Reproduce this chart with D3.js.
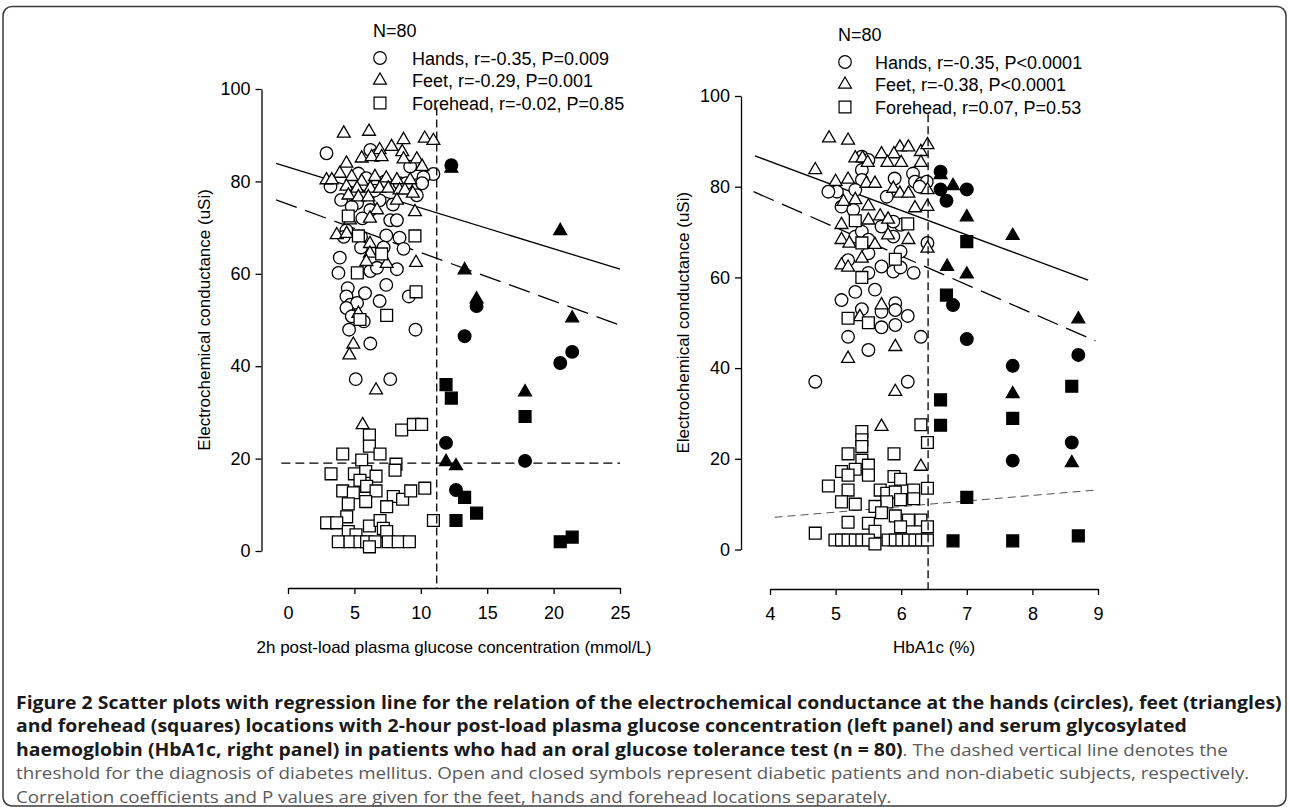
<!DOCTYPE html>
<meta charset="utf-8">
<body style="margin:0;background:#fff">
    <div id="chart"></div>
</body>
<script src="https://cdn.jsdelivr.net/npm/d3@7"></script>
<script>
    var svg_width = 1290,
        svg_height = 807;

    // tick labels
    var conductTicks = [0, 20, 40, 60, 80, 100];
    var glucoseTicks = [0, 5, 10, 15, 20, 25];
    var hba1cTicks = [4, 5, 6, 7, 8, 9];

    // ---- left panel: 2h post-load glucose (mmol/L) vs conductance (uSi) ----
    var glucoseHandsOpen = [[2.9,86.1],[6.2,86.8],[6.7,85.7],[9.2,83.2],[10.95,81.6],[10.2,80.9],[3.2,78.9],[4.0,76.0],
        [5.3,81.7],[5.9,80.7],[7.3,80.0],[9.7,79.2],[8.4,79.6],[10.1,79.6],[5.2,75.3],[6.9,75.9],[9.7,77.0],[6.2,73.8],
        [7.7,71.6],[8.2,71.6],[4.4,69.4],[4.2,68.0],[5.5,68.0],[7.4,68.3],[8.4,67.8],[8.7,65.4],[5.5,65.7],[7.2,65.7],
        [3.9,63.5],[3.8,60.2],[6.2,60.6],[6.7,61.3],[8.2,61.0],[4.5,56.9],[7.4,57.6],[5.8,55.8],[4.4,55.1],[4.7,53.3],
        [5.2,53.7],[6.9,54.1],[9.1,55.1],[4.4,52.6],[4.8,50.8],[5.7,49.7],[4.6,47.9],[6.2,44.9],[9.6,47.9],[5.1,37.2],
        [7.7,37.2],[8.9,79.6],[6.5,78.0],[4.8,74.5],[5.6,72.0],[7.9,75.0]];
    var glucoseFeetOpen = [[4.2,90.4],[6.1,90.8],[8.7,89.0],[10.3,89.3],[10.95,88.8],[7.8,87.5],[6.9,86.8],[8.6,86.4],
        [5.55,85.0],[6.3,85.3],[7.05,85.3],[9.7,84.8],[8.7,84.8],[4.4,83.9],[10.1,83.2],[3.9,81.7],[2.9,80.3],[3.3,80.3],
        [4.8,81.0],[5.55,80.0],[6.55,81.0],[7.4,80.7],[8.2,80.3],[9.2,80.3],[4.4,78.9],[5.2,78.5],[6.2,78.5],[6.9,78.5],
        [7.55,78.5],[8.4,78.1],[8.8,78.1],[4.55,77.0],[5.3,76.6],[6.05,76.6],[8.2,75.9],[9.4,77.4],[6.7,73.8],[9.56,73.4],
        [4.67,71.6],[6.17,72.0],[3.67,68.4],[4.42,68.7],[6.17,66.5],[6.17,64.4],[5.9,62.6],[7.43,62.2],[9.64,62.4],
        [5.3,51.4],[4.92,44.7],[4.62,42.4],[6.63,34.8],[5.62,27.3]];
    var glucoseForeheadOpen = [[4.54,72.5],[5.3,68.2],[9.56,68.2],[7.05,64.3],[5.22,60.2],[9.64,56.1],[7.43,51.0],[5.42,50.1],
        [8.56,26.2],[9.44,27.4],[10.06,27.4],[6.13,25.1],[6.13,22.7],[4.12,21.0],[6.93,21.0],[5.55,19.7],[8.13,18.8],
        [8.06,17.5],[3.24,16.7],[5.0,16.7],[5.85,17.2],[6.63,16.2],[5.42,15.3],[5.92,14.0],[4.12,13.0],[4.92,12.6],
        [6.63,13.0],[7.93,11.8],[8.63,11.2],[9.24,13.0],[10.3,13.6],[4.54,10.2],[5.85,10.7],[7.43,9.6],[4.42,7.4],
        [2.91,6.1],[3.67,6.1],[6.13,5.4],[6.93,6.6],[7.18,4.9],[4.54,4.2],[5.12,3.5],[7.43,4.2],[10.95,6.6],[3.79,2.0],
        [4.67,2.0],[5.42,2.0],[5.92,2.0],[6.55,2.0],[7.55,2.0],[8.3,2.0],[9.14,2.0],[6.13,0.9]];
    var glucoseHandsClosed = [[12.3,83.5],[14.2,53.0],[13.3,46.5],[20.5,40.7],[21.4,43.1],[11.9,23.4],[17.85,19.5],[12.65,13.2]];
    var glucoseFeetClosed = [[12.3,82.8],[20.5,69.3],[13.3,60.8],[14.2,54.5],[21.4,50.4],[11.9,19.3],[12.65,18.4],[17.85,34.4]];
    var glucoseForeheadClosed = [[11.9,36.0],[12.3,33.1],[17.85,29.1],[13.3,11.6],[14.2,8.2],[12.65,6.6],[20.5,2.0],[21.4,3.0]];
    // regression lines, start/end in data units
    var glucoseFitHands = [[-0.9,83.9],[25,61.0]];
    var glucoseFitFeet = [[-0.9,76.0],[25,48.9]];
    var glucoseFitForehead = [[-0.5,19.0],[25,19.0]];
    var glucoseThreshold = 11.2;
    var glucoseLegend = ["Hands, r=-0.35, P=0.009", "Feet, r=-0.29, P=0.001", "Forehead, r=-0.02, P=0.85"];

    // ---- right panel: HbA1c (%) vs conductance (uSi) ----
    var hba1cHandsOpen = [[5.4,86.6],[5.5,85.9],[5.4,83.7],[5.4,81.5],[5.02,78.9],[4.89,78.9],[5.3,79.3],[5.09,75.6],
        [5.27,74.9],[5.78,77.8],[5.9,81.8],[6.18,82.9],[6.21,81.1],[6.31,80.7],[6.39,81.1],[6.28,80.0],[5.7,71.2],
        [5.99,71.6],[5.88,72.3],[5.3,69.0],[5.4,70.1],[5.5,68.3],[5.88,69.0],[5.99,65.7],[5.19,63.8],[5.5,65.3],
        [5.7,62.4],[5.88,61.3],[5.99,62.2],[6.19,61.0],[5.5,61.0],[5.3,56.8],[5.6,57.3],[5.09,55.0],[5.4,53.0],
        [5.7,52.4],[5.91,54.3],[5.91,52.8],[6.1,51.5],[5.91,49.5],[5.7,49.0],[5.19,46.9],[6.3,46.9],[5.5,44.0],
        [4.69,37.0],[6.1,37.0],[6.4,67.6]];
    var hba1cFeetOpen = [[4.9,90.7],[5.19,90.2],[4.69,83.7],[5.7,87.2],[5.98,88.7],[6.11,88.7],[6.3,87.7],[6.4,89.2],
        [5.3,86.3],[5.41,86.3],[5.49,85.3],[5.89,87.2],[5.79,85.3],[6.0,85.3],[6.3,85.3],[5.0,81.1],[5.19,81.6],
        [5.47,80.7],[5.6,80.7],[5.88,79.6],[5.98,78.5],[6.11,78.5],[6.4,79.3],[5.12,76.7],[5.3,77.1],[5.5,75.7],
        [5.68,73.5],[5.8,72.8],[6.21,75.3],[6.4,75.6],[5.09,71.6],[5.5,72.6],[5.09,68.3],[5.21,67.5],[5.6,67.2],
        [5.8,69.3],[6.11,68.3],[6.4,66.4],[5.4,64.2],[5.09,62.7],[5.19,62.2],[5.7,53.9],[5.37,51.3],[5.91,44.7],
        [5.19,42.1],[5.91,34.8],[5.7,27.1],[6.3,18.3]];
    var hba1cForeheadOpen = [[5.3,72.5],[6.1,71.8],[5.4,67.6],[5.91,64.0],[5.4,60.0],[5.19,51.0],[5.5,50.0],
        [6.3,27.5],[5.4,26.0],[5.4,24.2],[5.4,22.7],[5.19,21.1],[5.89,21.1],[6.4,23.6],[5.4,19.7],[5.5,18.6],
        [5.09,17.2],[5.3,17.7],[5.19,16.4],[5.5,16.4],[4.89,14.0],[5.89,16.1],[5.99,15.5],[5.19,13.1],[5.68,13.1],
        [5.78,12.4],[5.91,12.7],[6.19,13.1],[6.4,13.5],[5.09,10.5],[5.3,10.0],[5.78,10.5],[5.99,11.0],[6.19,11.2],
        [5.6,9.5],[5.7,8.1],[5.19,6.0],[5.5,5.8],[5.91,7.4],[6.11,6.5],[6.3,6.5],[5.99,5.0],[6.4,5.0],[5.6,4.0],
        [4.69,3.6],[4.99,2.1],[5.09,2.1],[5.19,2.1],[5.3,2.1],[5.4,2.1],[5.5,2.1],[5.8,2.1],[5.91,2.1],[6.01,2.1],
        [6.11,2.1],[6.21,2.1],[6.31,2.1],[6.4,2.1],[5.6,1.2]];
    var hba1cHandsClosed = [[6.6,83.3],[6.6,79.4],[7.0,79.4],[6.69,76.9],[6.79,53.9],[7.0,46.4],[7.7,40.5],[8.7,42.9],[7.7,19.6],[8.6,23.6]];
    var hba1cFeetClosed = [[6.6,82.6],[6.79,80.2],[7.0,73.3],[7.7,69.2],[6.7,62.4],[7.0,60.7],[8.7,50.8],[7.7,34.3],[8.6,19.1]];
    var hba1cForeheadClosed = [[7.0,67.9],[6.69,56.1],[6.6,33.0],[6.6,27.4],[7.7,28.9],[8.6,36.0],[7.0,11.5],[6.79,1.9],[7.7,1.9],[8.7,3.0]];
    var hba1cFitHands = [[3.77,86.8],[8.85,59.4]];
    var hba1cFitFeet = [[3.75,78.9],[8.96,46.0]];
    var hba1cFitForehead = [[4.07,7.1],[8.96,13.1]];
    var hba1cThreshold = 6.41;
    var hba1cLegend = ["Hands, r=-0.35, P<0.0001", "Feet, r=-0.38, P<0.0001", "Forehead, r=0.07, P=0.53"];

    var yTitle = "Electrochemical conductance (uSi)";
    var chartFont = "Arial, 'Liberation Sans', sans-serif";

    var svg = d3.select("#chart").append("svg")
        .attr("width", svg_width)
        .attr("height", svg_height)
        .style("display", "block");

    // figure frame
    svg.append("rect")
        .attr("x", 3).attr("y", 6.5)
        .attr("width", 1283).attr("height", 799.5)
        .attr("rx", 9)
        .style("fill", "none")
        .style("stroke", "#3a3a3a")
        .style("stroke-width", 1.5);

    var shapes = {
        circle: d3.symbol().type(d3.symbolCircle).size(125),
        triangle: d3.symbol().type(d3.symbolTriangle).size(72),
        square: d3.symbol().type(d3.symbolSquare).size(140)
    };

    function draw_panel(p) {
        var x = d3.scaleLinear().domain(p.xDomain).range(p.xRange);
        var y = d3.scaleLinear().domain([0, 100]).range(p.yRange);
        var g = svg.append("g");

        var yAxis = g.append("g")
            .attr("transform", "translate(" + p.yAxisX + ",0)")
            .call(d3.axisLeft(y).tickValues(conductTicks).tickSize(6).tickSizeOuter(0).tickPadding(5));
        var xAxis = g.append("g")
            .attr("transform", "translate(0," + p.xAxisY + ")")
            .call(d3.axisBottom(x).tickValues(p.xTicks).tickFormat(d3.format("d"))
                .tickSize(6).tickSizeOuter(0).tickPadding(12));
        [yAxis, xAxis].forEach(function(a) {
            a.selectAll("path, line").style("stroke", "#000").style("stroke-width", 1.3);
            a.selectAll("text").style("font-family", chartFont).style("font-size", "18px").style("fill", "#000");
        });

        g.append("text")
            .attr("transform", "translate(" + p.yTitleX + "," + (p.yRange[0] + p.yRange[1]) / 2 + ") rotate(-90)")
            .attr("text-anchor", "middle")
            .style("font-family", chartFont).style("font-size", "17px")
            .text(yTitle);
        g.append("text")
            .attr("x", (p.xRange[0] + p.xRange[1]) / 2)
            .attr("y", p.xTitleY)
            .attr("text-anchor", "middle")
            .style("font-family", chartFont).style("font-size", "17px")
            .text(p.xTitle);

        // regression lines
        var line = d3.line().x(function(d) { return x(d[0]); }).y(function(d) { return y(d[1]); });
        p.fits.forEach(function(f) {
            g.append("path")
                .attr("d", line(f.pts))
                .style("fill", "none")
                .style("stroke", f.color || "#000")
                .style("stroke-width", f.width || 1.3)
                .style("stroke-dasharray", f.dash);
        });

        // symbols
        function points(data, shape, fill) {
            g.append("g").selectAll("path")
                .data(data)
                .enter()
                    .append("path")
                    .attr("transform", function(d) { return "translate(" + x(d[0]) + "," + y(d[1]) + ")"; })
                    .attr("d", shapes[shape])
                    .style("fill", fill)
                    .style("stroke", "#000")
                    .style("stroke-width", 1.3);
        }
        points(p.handsOpen, "circle", "#fff");
        points(p.feetOpen, "triangle", "#fff");
        points(p.foreheadOpen, "square", "#fff");
        points(p.feetClosed, "triangle", "#000");
        points(p.foreheadClosed, "square", "#000");
        points(p.handsClosed, "circle", "#000");

        // diagnostic threshold
        g.append("line")
            .attr("x1", x(p.threshold)).attr("x2", x(p.threshold))
            .attr("y1", y(96)).attr("y2", p.xAxisY)
            .style("stroke", "#000")
            .style("stroke-width", 1.3)
            .style("stroke-dasharray", "8,4");

        // legend
        var lg = g.append("g").style("font-family", chartFont).style("font-size", "18px");
        lg.append("text").attr("x", p.legendX - 7).attr("y", p.legendY - 21).text("N=80");
        var rows = lg.selectAll("g.row")
            .data(p.legend)
            .enter()
                .append("g")
                .attr("class", "row")
                .attr("transform", function(d, i) { return "translate(" + p.legendX + "," + (p.legendY + i * 22.5) + ")"; });
        rows.append("path")
            .attr("d", function(d, i) { return shapes[["circle", "triangle", "square"][i]](); })
            .style("fill", "#fff").style("stroke", "#000").style("stroke-width", 1.2);
        rows.append("text")
            .attr("x", p.legendTextDx)
            .attr("y", 6.5)
            .text(function(d) { return d; });
    }

    draw_panel({
        xDomain: [0, 25], xRange: [288, 620], yRange: [551, 89],
        yAxisX: 261.5, xAxisY: 588, xTicks: glucoseTicks,
        yTitleX: 210, xTitleY: 653,
        xTitle: "2h post-load plasma glucose concentration (mmol/L)",
        handsOpen: glucoseHandsOpen, feetOpen: glucoseFeetOpen, foreheadOpen: glucoseForeheadOpen,
        handsClosed: glucoseHandsClosed, feetClosed: glucoseFeetClosed, foreheadClosed: glucoseForeheadClosed,
        fits: [
            {pts: glucoseFitHands, dash: null},
            {pts: glucoseFitFeet, dash: "22,9"},
            {pts: glucoseFitForehead, dash: "9,5"}
        ],
        threshold: glucoseThreshold,
        legend: glucoseLegend, legendX: 380, legendY: 58, legendTextDx: 32
    });

    draw_panel({
        xDomain: [4, 9], xRange: [770, 1098], yRange: [549.5, 96],
        yAxisX: 741, xAxisY: 589, xTicks: hba1cTicks,
        yTitleX: 689, xTitleY: 653,
        xTitle: "HbA1c (%)",
        handsOpen: hba1cHandsOpen, feetOpen: hba1cFeetOpen, foreheadOpen: hba1cForeheadOpen,
        handsClosed: hba1cHandsClosed, feetClosed: hba1cFeetClosed, foreheadClosed: hba1cForeheadClosed,
        fits: [
            {pts: hba1cFitHands, dash: null},
            {pts: hba1cFitFeet, dash: "22,9"},
            {pts: hba1cFitForehead, dash: "8,5", color: "#555", width: 1}
        ],
        threshold: hba1cThreshold,
        legend: hba1cLegend, legendX: 845, legendY: 62, legendTextDx: 30
    });

    // caption, wrapped as in the published figure
    var captionLines = [
        [["Figure 2 Scatter plots with regression line for the relation of the electrochemical conductance at the hands (circles), feet (triangles)", true]],
        [["and forehead (squares) locations with 2-hour post-load plasma glucose concentration (left panel) and serum glycosylated", true]],
        [["haemoglobin (HbA1c, right panel) in patients who had an oral glucose tolerance test (n = 80)", true], [". The dashed vertical line denotes the", false]],
        [["threshold for the diagnosis of diabetes mellitus. Open and closed symbols represent diabetic patients and non-diabetic subjects, respectively.", false]],
        [["Correlation coefficients and P values are given for the feet, hands and forehead locations separately.", false]]
    ];
    var caption = svg.append("g")
        .style("font-family", "'Open Sans', sans-serif")
        .style("font-size", "17.2px");
    var lines = captionLines.map(function(parts, i) {
        var t = caption.append("text").attr("x", 0).attr("y", 709 + i * 23.5);
        parts.forEach(function(part) {
            t.append("tspan")
                .attr("class", part[1] ? "b" : "n")
                .text(part[0])
                .style("font-weight", part[1] ? "bold" : "normal")
                .style("fill", part[1] ? "#1a1a1a" : "#5a5a5a");
        });
        return t;
    });
    // the original caption face is wider than Open Sans: stretch so line 1 spans the frame,
    // and size the plain runs so line 4 ends where it does in the original
    var sx = 1266 / lines[0].node().getComputedTextLength();
    var plainSize = 17.2 * 1233 / (lines[3].node().getComputedTextLength() * sx);
    caption.selectAll("tspan.n").style("font-size", plainSize + "px");
    caption.attr("transform", "translate(16,0) scale(" + sx + ",1)");
</script>
